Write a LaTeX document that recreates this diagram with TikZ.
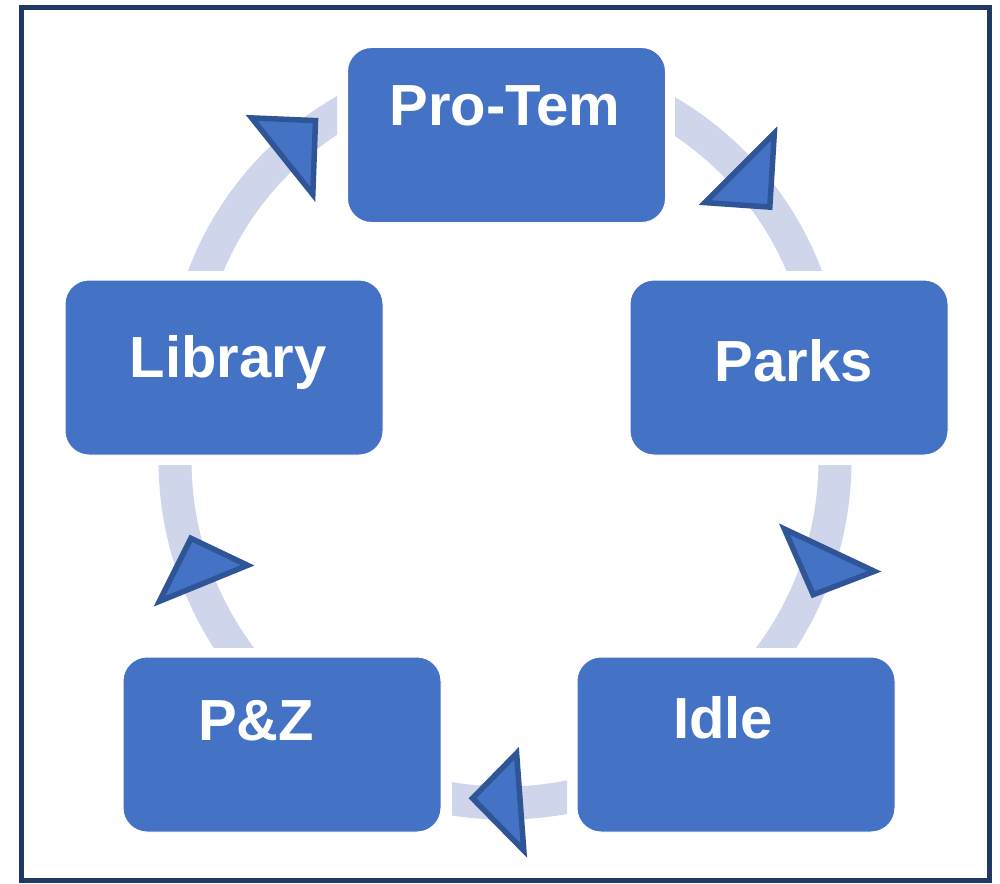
\documentclass[tikz,border=0pt]{standalone}
\usepackage{fontspec}
\setmainfont{Liberation Sans}
\definecolor{boxblue}{HTML}{4472C4}
\definecolor{tridark}{HTML}{2F5597}
\definecolor{ringc}{RGB}{207,213,234}
\definecolor{framec}{HTML}{203864}
\tikzset{
  box/.style={draw=white, line width=1pt, fill=boxblue, rounded corners=24pt,
    minimum width=318pt, minimum height=175pt, inner sep=0pt},
  lbl/.style={text=white, font=\bfseries\fontsize{58}{62}\selectfont, anchor=base, inner sep=0pt},
  ring/.style={draw=ringc, line width=33pt},
  tri/.style={fill=boxblue, draw=tridark, line width=5.5pt, line join=miter},
  frame/.style={draw=framec, line width=5pt}
}
\begin{document}
\begin{tikzpicture}[x=1pt, y=-1pt]
\useasboundingbox (0,0) rectangle (1000,883);
\fill[white] (0,0) rectangle (1000,883);
% ring segments
\coordinate (cu) at (505,390);
\coordinate (cl) at (505,460);
\coordinate (cb) at (505,473);
\begin{scope}
  \clip (0,0) rectangle (337,270);
  \draw[ring] (cu) circle[radius=322];
\end{scope}
\begin{scope}
  \clip (675,0) rectangle (1000,270);
  \draw[ring] (cu) circle[radius=322];
\end{scope}
\begin{scope}
  \clip (700,465) rectangle (1000,647);
  \draw[ring] (cl) circle[radius=330];
\end{scope}
\begin{scope}
  \clip (0,465) rectangle (310,647);
  \draw[ring] (cl) circle[radius=330];
\end{scope}
\begin{scope}
  \clip (452,700) rectangle (567,883);
  \draw[ring] (cb) circle[radius=330];
\end{scope}
% boxes
\node[box] (protem) at (506.5,135) {};
\node[box] (library) at (224,367.5) {};
\node[box] (parks) at (789,367.5) {};
\node[box] (pz) at (282,744.5) {};
\node[box] (idle) at (736,744.5) {};
% labels
\node[lbl] (protemt) at (505,125) {Pro-Tem};
\node[lbl] (libraryt) at (228,377) {Library};
\node[lbl] (parkst) at (794,381) {Parks};
\node[lbl] (pzt) at (256,740) {P\&Z};
\node[lbl] (idlet) at (723,738) {Idle};
% arrow triangles
\draw[tri] (251.6,117.9) -- (315.5,120.6) -- (312.8,194.4) -- cycle;
\draw[tri] (774.3,133.3) -- (705,202.6) -- (769.8,207.1) -- cycle;
\draw[tri] (784.4,529) -- (874.4,571.3) -- (813.2,594.7) -- cycle;
\draw[tri] (516.6,753.3) -- (472.5,798.3) -- (523.8,850.5) -- cycle;
\draw[tri] (190.9,538.3) -- (247.6,565.3) -- (159.4,601.3) -- cycle;
% frame
\draw[frame] (21,8) rectangle (989,880);
\end{tikzpicture}
\end{document}
